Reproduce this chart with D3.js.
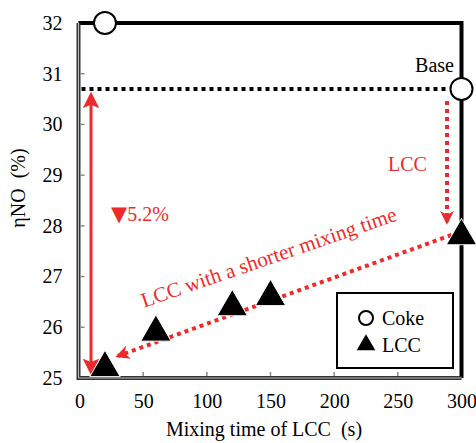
<!DOCTYPE html>
<html>
<head>
<meta charset="utf-8">
<script src="https://cdn.jsdelivr.net/npm/d3@7"></script>
<style>
  body { margin: 0; background: #fff; }
</style>
</head>
<body>
<script>
// data
const xTicks = [0, 50, 100, 150, 200, 250, 300];
const yTicks = [25, 26, 27, 28, 29, 30, 31, 32];
const cokeTime = [20, 300];
const cokeEta = [32, 30.7];
const lccTime = [20, 60, 120, 150, 300];
const lccEta = [25.2, 25.9, 26.4, 26.6, 27.8];
const baseEta = 30.7;

const width = 476, height = 443;
const red = "#ee2a2a";
const serif = '"Liberation Serif", "Times New Roman", serif';

const x = d3.scaleLinear().domain([0, 300]).range([79.5, 461.5]);
const y = d3.scaleLinear().domain([25, 32]).range([378, 23]);

const svg = d3.select("body").append("svg")
    .attr("width", width)
    .attr("height", height)
    .style("font-family", serif);

// arrow heads
const defs = svg.append("defs");
defs.append("marker")
    .attr("id", "head")
    .attr("viewBox", "0 0 10 10")
    .attr("refX", 8).attr("refY", 5)
    .attr("markerWidth", 5.5).attr("markerHeight", 5.5)
    .attr("markerUnits", "strokeWidth")
    .attr("orient", "auto-start-reverse")
  .append("path")
    .attr("d", "M0,0 L10,5 L0,10 L2,5 Z")
    .attr("fill", red);
defs.append("marker")
    .attr("id", "headDot")
    .attr("viewBox", "0 0 10 10")
    .attr("refX", 8).attr("refY", 5)
    .attr("markerWidth", 3.5).attr("markerHeight", 3.5)
    .attr("markerUnits", "strokeWidth")
    .attr("orient", "auto")
  .append("path")
    .attr("d", "M0,0 L10,5 L0,10 L3,5 Z")
    .attr("fill", red);

// frame: top and right thick black
svg.append("path")
    .attr("d", `M${x(0) - 1},${y(32)} H${x(300)} V${y(25)}`)
    .attr("fill", "none")
    .attr("stroke", "#000")
    .attr("stroke-width", 4);

// left and bottom axes (grey double line look)
const axPath = `M${x(0) - 1},${y(32)} V${y(25)} H${x(300)}`;
svg.append("path").attr("d", axPath)
    .attr("fill", "none").attr("stroke", "#333").attr("stroke-width", 4);
svg.append("path").attr("d", axPath)
    .attr("fill", "none").attr("stroke", "#bbb").attr("stroke-width", 1);

// ticks
const xAxis = svg.append("g")
    .attr("transform", `translate(0,${y(25) + 2})`)
    .call(d3.axisBottom(x).tickValues(xTicks).tickSize(0).tickPadding(14).tickFormat(d3.format("d")));
xAxis.select(".domain").remove();
xAxis.selectAll("text").attr("fill", "#000")
    .style("font-family", serif).style("font-size", "20px");

const yAxis = svg.append("g")
    .attr("transform", `translate(${x(0) - 3},0)`)
    .call(d3.axisLeft(y).tickValues(yTicks).tickSize(0).tickPadding(14).tickFormat(d3.format("d")));
yAxis.select(".domain").remove();
yAxis.selectAll("text").attr("fill", "#000")
    .style("font-family", serif).style("font-size", "20px");

svg.selectAll(".xt").data(xTicks.slice(1, -1)).enter().append("line")
    .attr("x1", d => x(d)).attr("x2", d => x(d))
    .attr("y1", y(25) - 2).attr("y2", y(25) - 6)
    .attr("stroke", "#888").attr("stroke-width", 1.5);
svg.selectAll(".yt").data(yTicks.slice(1, -1)).enter().append("line")
    .attr("x1", x(0) + 1).attr("x2", x(0) + 5)
    .attr("y1", d => y(d)).attr("y2", d => y(d))
    .attr("stroke", "#888").attr("stroke-width", 1.5);

// helper for serif labels
function label(sel, size) {
    return sel.style("font-family", serif).style("font-size", size + "px");
}

// axis titles
label(svg.append("text"), 20)
    .attr("x", 264).attr("y", 436)
    .attr("text-anchor", "middle")
    .style("white-space", "pre")
    .text("Mixing time of LCC  (s)");
label(svg.append("text"), 20)
    .attr("transform", "translate(25,188) rotate(-90)")
    .attr("text-anchor", "middle")
    .style("white-space", "pre")
    .text("ηNO  (%)");

// base dotted line
svg.append("line")
    .attr("x1", x(0) + 2).attr("x2", x(300) - 12)
    .attr("y1", y(baseEta)).attr("y2", y(baseEta))
    .attr("stroke", "#000").attr("stroke-width", 4)
    .attr("stroke-dasharray", "4,4");

// red double arrow
svg.append("line")
    .attr("x1", 91).attr("x2", 91)
    .attr("y1", y(baseEta) + 6).attr("y2", y(lccEta[0]) + 4)
    .attr("stroke", red).attr("stroke-width", 3)
    .attr("marker-start", "url(#head)")
    .attr("marker-end", "url(#head)");

const drop = label(svg.append("text"), 20)
    .attr("x", 111).attr("y", 221)
    .attr("fill", red);
drop.append("tspan").style("font-size", "21px").style("font-family", "DejaVu Sans").text("▼");
drop.append("tspan").text("5.2%");

// LCC dotted arrow (vertical)
svg.append("line")
    .attr("x1", 447).attr("x2", 447)
    .attr("y1", y(baseEta) + 12).attr("y2", y(lccEta[4]) - 14)
    .attr("stroke", red).attr("stroke-width", 4)
    .attr("stroke-dasharray", "4,4")
    .attr("marker-end", "url(#headDot)");
label(svg.append("text"), 20)
    .attr("x", 388).attr("y", 171)
    .attr("fill", red)
    .text("LCC");

// diagonal dotted arrow
svg.append("line")
    .attr("x1", x(300) - 10).attr("y1", y(lccEta[4]) - 1)
    .attr("x2", 118).attr("y2", 356)
    .attr("stroke", red).attr("stroke-width", 4)
    .attr("stroke-dasharray", "4,4")
    .attr("marker-end", "url(#headDot)");
label(svg.append("text"), 21)
    .attr("transform", "translate(271,264) rotate(-19)")
    .attr("text-anchor", "middle")
    .attr("fill", red)
    .text("LCC with a shorter mixing time");

// Base label
label(svg.append("text"), 20)
    .attr("x", 454).attr("y", 72)
    .attr("text-anchor", "end")
    .text("Base");

// markers
const tri = d3.symbol().type(d3.symbolTriangle).size(400);
svg.selectAll(".lcc").data(lccTime).enter().append("path")
    .attr("d", tri)
    .attr("transform", (d, i) => `translate(${x(d)},${y(lccEta[i])})`)
    .attr("fill", "#000")
    .attr("stroke", "#fff").attr("stroke-width", 1);

svg.selectAll(".coke").data(cokeTime).enter().append("circle")
    .attr("cx", d => x(d))
    .attr("cy", (d, i) => y(cokeEta[i]))
    .attr("r", 11)
    .attr("fill", "#fff")
    .attr("stroke", "#000").attr("stroke-width", 2);

// legend
const lg = svg.append("g");
lg.append("rect")
    .attr("x", 337).attr("y", 293).attr("width", 116).attr("height", 75)
    .attr("fill", "#fff").attr("stroke", "#000").attr("stroke-width", 2);
lg.append("circle")
    .attr("cx", 366).attr("cy", 318).attr("r", 7)
    .attr("fill", "#fff").attr("stroke", "#000").attr("stroke-width", 2);
lg.append("path")
    .attr("d", d3.symbol().type(d3.symbolTriangle).size(150))
    .attr("transform", "translate(366,345)")
    .attr("fill", "#000");
label(lg.append("text"), 20).attr("x", 382).attr("y", 325).text("Coke");
label(lg.append("text"), 20).attr("x", 382).attr("y", 352).text("LCC");
</script>
</body>
</html>
